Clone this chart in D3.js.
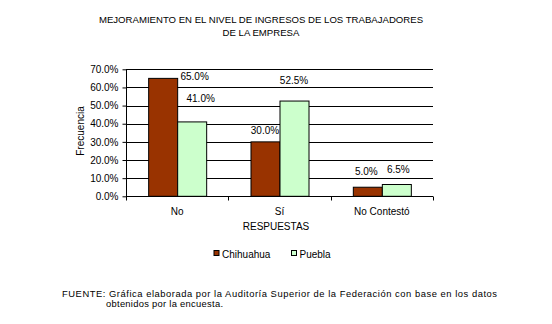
<!DOCTYPE html>
<html><head><meta charset="utf-8">
<script src="https://cdn.jsdelivr.net/npm/d3@7"></script>
<style>
body{margin:0;background:#fff;}
svg text{font-family:"Liberation Sans",Arial,sans-serif;fill:#000;}
</style></head>
<body>
<svg id="chart" width="552" height="324"></svg>
<script>
const categories = ["No", "Sí", "No Contestó"];
const seriesNames = ["Chihuahua", "Puebla"];
const chihuahua = [65.0, 30.0, 5.0];
const puebla = [41.0, 52.5, 6.5];
const yTicks = [0, 10, 20, 30, 40, 50, 60, 70];
const titleLines = ["MEJORAMIENTO EN EL NIVEL DE INGRESOS DE LOS TRABAJADORES", "DE LA EMPRESA"];
const footnoteLines = ["FUENTE: Gráfica elaborada por la Auditoría Superior de la Federación con base en los datos", "obtenidos por la encuesta."];

// layout (not data)
const colors = ["#993300", "#CCFFCC"];
const labelOffsets = [[[32, -2], [9, -23]], [[0, -11], [0, -21]], [[-1, -16], [2, -15]]];
const footLayout = [{x: 62, len: 435}, {x: 106, len: 117}];

const svg = d3.select("#chart");
const x0 = d3.scaleBand().domain(categories).range([126, 433]).padding(0);
const x1 = d3.scaleBand().domain(seriesNames).range([0, x0.bandwidth()]).paddingInner(0).paddingOuter(0.764);
const y = d3.scaleLinear().domain([0, 70]).range([196.3, 69.3]);

// title
svg.append("g").selectAll("text").data(titleLines).join("text")
  .attr("x", 261).attr("y", (d, i) => 23 + i * 12.5)
  .attr("text-anchor", "middle").attr("font-size", 9.6).text(d => d);

// gridlines
svg.append("g").selectAll("line").data(yTicks.filter(t => t > 0)).join("line")
  .attr("x1", 126).attr("x2", 433).attr("y1", d => Math.round(y(d)) + 0.5).attr("y2", d => Math.round(y(d)) + 0.5)
  .attr("stroke", "#000").attr("stroke-width", 1);

// bars
const data = categories.map((c, i) => ({cat: c, vals: [chihuahua[i], puebla[i]], idx: i}));
const groups = svg.append("g").selectAll("g").data(data).join("g")
  .attr("transform", d => `translate(${x0(d.cat)},0)`);
groups.selectAll("rect").data(d => d.vals.map((v, j) => ({v, j, s: seriesNames[j]}))).join("rect")
  .attr("x", d => x1(d.s) + 0.5).attr("width", x1.bandwidth())
  .attr("y", d => y(d.v)).attr("height", d => y(0) - y(d.v))
  .attr("fill", d => colors[d.j]).attr("stroke", "#000").attr("stroke-width", 1);
groups.selectAll("text").data(d => d.vals.map((v, j) => ({v, j, s: seriesNames[j], i: d.idx}))).join("text")
  .attr("x", d => x1(d.s) + x1.bandwidth() / 2 + labelOffsets[d.i][d.j][0])
  .attr("y", d => y(d.v) + labelOffsets[d.i][d.j][1] + 3.5)
  .attr("text-anchor", "middle").attr("font-size", 10)
  .text(d => d.v.toFixed(1) + "%");

// y axis
const yAxis = svg.append("g").attr("transform", "translate(126.5,0)")
  .call(d3.axisLeft(y).tickValues(yTicks).tickSize(4).tickPadding(4).tickFormat(d => d.toFixed(1) + "%"));
yAxis.selectAll("text").attr("font-size", 10).attr("font-family", "Liberation Sans, Arial, sans-serif");
yAxis.select(".domain").attr("d", `M0,${y(0)}V${y(70)}`);
yAxis.selectAll(".tick line").attr("stroke", "#000");

// x axis
const xg = svg.append("g").attr("transform", `translate(0,${Math.round(y(0)) + 0.5})`);
xg.append("line").attr("x1", 126).attr("x2", 433).attr("stroke", "#000");
xg.selectAll("line.t").data(categories.map(c => x0(c) + x0.bandwidth()).concat([126])).join("line")
  .attr("class", "t").attr("x1", d => Math.round(d) + 0.5).attr("x2", d => Math.round(d) + 0.5)
  .attr("y1", 0).attr("y2", 4).attr("stroke", "#000");
svg.append("g").selectAll("text").data(categories).join("text")
  .attr("x", d => x0(d) + x0.bandwidth() / 2).attr("y", 214.5)
  .attr("text-anchor", "middle").attr("font-size", 10).text(d => d);

// axis titles
svg.append("text").attr("x", 276).attr("y", 229.5).attr("text-anchor", "middle").attr("font-size", 10).text("RESPUESTAS");
svg.append("text").attr("transform", "translate(83.5,131) rotate(-90)").attr("text-anchor", "middle").attr("font-size", 10).text("Frecuencia");

// legend
const legendX = [213.5, 291];
const lg = svg.append("g").selectAll("g").data(seriesNames).join("g")
  .attr("transform", (d, i) => `translate(${legendX[i]},250)`);
lg.append("rect").attr("x", 0.5).attr("y", 0.5).attr("width", 5).attr("height", 5)
  .attr("fill", (d, i) => colors[i]).attr("stroke", "#000");
lg.append("text").attr("x", 8.5).attr("y", 7.5).attr("font-size", 10).text(d => d);

// footnote
svg.append("g").selectAll("text").data(footnoteLines).join("text")
  .attr("x", (d, i) => footLayout[i].x).attr("y", (d, i) => 296.5 + i * 10)
  .attr("textLength", (d, i) => footLayout[i].len).attr("lengthAdjust", "spacing")
  .attr("font-size", 9.4).text(d => d);
</script>
</body></html>
